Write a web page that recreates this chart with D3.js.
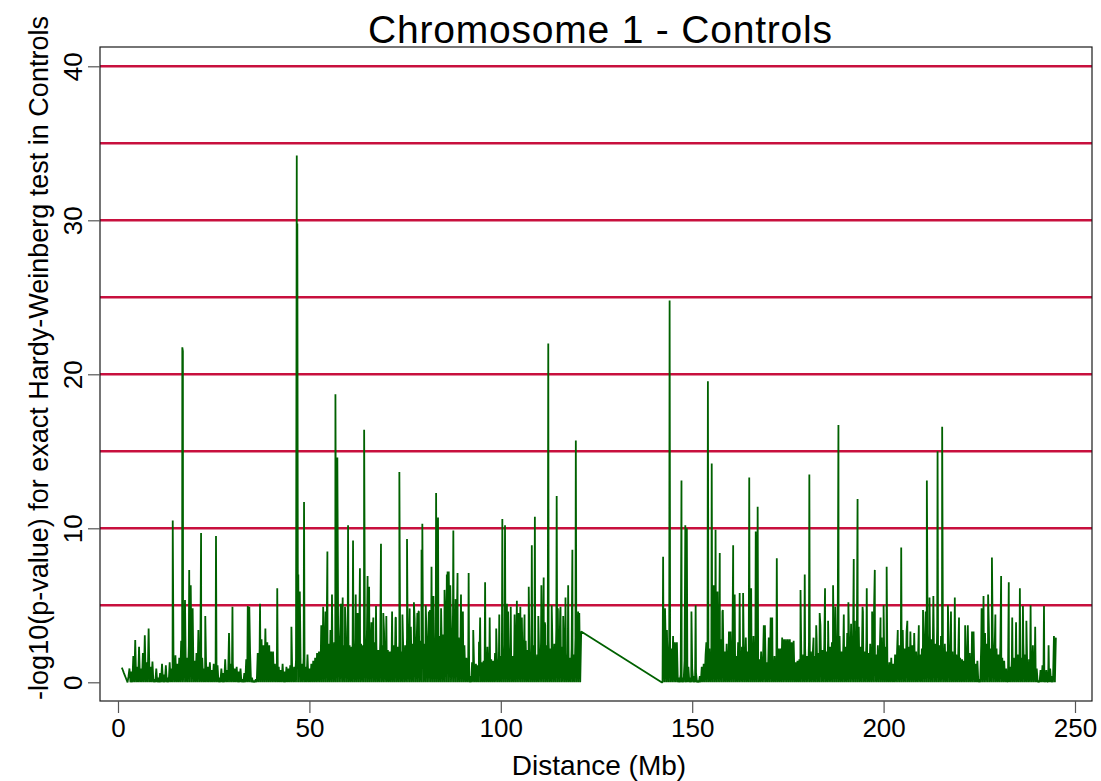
<!DOCTYPE html>
<html>
<head>
<meta charset="utf-8">
<script src="https://cdn.jsdelivr.net/npm/d3@7"></script>
<style>
  body { margin: 0; background: #fff; }
  svg { display: block; font-family: "Liberation Sans", Arial, Helvetica, sans-serif; }
</style>
</head>
<body>
<div id="chart"></div>
<script>
// -log10(p), one value every 0.25 Mb
const stepMb = 0.25;
const pArmStart = 1.0;
const pArmValues = [
  0.95,0.8,0.63,0.47,0.31,0.15,0,0.4,0.9,0,0.7,0,1.7,0,2.75,0,1.0,0,2.3,0,0.9,0,1.9,0,3.05,0,1.3,0,3.5,0,1.0,0,1.35,0,0.2,0,0.9,0,0.3,0,
  0.6,0,1.2,0,0.5,0,1.1,0,0.3,0,1.3,0,0.9,0,1.4,0,1.75,0,1.2,0,1.6,0,2.7,0,1.5,0,5.35,0,1.6,0,2.4,0,6.3,0,4.8,0,1.4,0,1.9,0,
  3.4,0,1.1,0,1.6,0,0.9,0,1.3,0,1.0,0,1.3,0,0.8,0,1.2,0,1.0,0,1.1,0,0.3,0,0.9,0,0.6,0,1.5,0,0.8,0,3.2,0,1.2,0,1.2,0,0.9,0,
  1.0,0,0.7,0,0.9,0,0.2,0,0.6,0,1.5,0,1.1,0,2.0,0,0.3,0,0.1,0,0.2,0,1.9,0,2.2,0,2.8,0,2.4,0,3.5,0,2.6,0,2.4,0,2.0,0,2.0,0,
  1.2,0,0.9,0,1.0,0,0.8,0,1.2,0,0.7,0,1.0,0,0.9,0,1.1,0,0.8,0,1.0,0,1.5,0,1.3,0,5.9,0,1.2,0,1.6,0,1.0,0,1.8,0,0.9,0,1.2,0,
  1.4,0,1.6,0,1.9,0,2.0,0,2.2,0,2.4,0,2.3,0,3.0,0,2.5,0,3.4,0,2.6,0,2.6,0,2.8,0,3.8,0,2.6,0,2.7,0,2.4,0,3.3,0,2.5,0,2.4,0,
  2.3,0,2.8,0,2.2,0,3.1,0,2.6,0,2.5,0,2.4,0,3.2,0,2.7,0,2.7,0,2.2,0,3.0,0,2.6,0,2.4,0,2.1,0,2.6,0,2.4,0,3.3,0,2.2,0,2.1,0,
  2.0,0,2.2,0,2.4,0,4.2,0,2.3,0,2.6,0,2.0,0,2.3,0,2.4,0,2.9,0,2.1,0,3.6,0,2.5,0,4.1,0,2.4,0,4.6,0,2.7,0,3.1,0,2.5,0,4.0,0,
  2.6,0,4.7,0,2.8,0,3.2,0,2.9,0,2.8,0,3.0,0,3.5,0,3.1,0,4.3,0,3.2,0,5.2,0,3.0,0,4.4,0,2.8,0,3.8,0,2.9,0,3.0,0,2.4,0,2.4,0,
  1.6,0,1.6,0,0.4,0,1.3,0,1.2,0,1.2,0,1.1,0,2.6,0,1.3,0,1.4,0,1.4,0,2.3,0,1.2,0,1.5,0,1.4,0,1.9,0,1.5,0,1.6,0,1.7,0,2.4,0,
  2.2,0,3.0,0,2.0,0,2.5,0,1.7,0,1.9,0,2.2,0,3.6,0,2.3,0,4.2,0,1.9,0,2.7,0,2.1,0,2.2,0,1.8,0,2.4,0,1.7,0,1.8,0,1.9,0,2.6,0,
  2.2,0,3.9,0,2.4,0,2.7,0,2.2,0,2.3,0,2.5,0,3.5,0,2.6,0,4.6,0,2.3,0,2.0,0,1.9,0,1.8,0,1.6,0,2.2,0,1.8,0,2.9,0,2.0,0,4.5,0,
  3.3
];
const qArmStart = 142.0;
const qArmValues = [
  0,0,2.5,0,3.5,0,2.0,0,2.8,0,2.2,0,3.0,0,1.8,0,2.6,0,0.3,0,0.5,0,0.3,0,1.4,0,0.4,0,1.0,0,0.3,0,0.9,0,0.4,0,0.6,0,0.1,0,
  0.4,0,1.0,0,1.2,0,1.8,0,2.0,0,2.2,0,1.8,0,3.0,0,2.2,0,3.5,0,1.9,0,2.8,0,4.7,0,2.0,0,2.5,0,1.6,0,3.3,0,2.0,0,2.4,0,1.7,0,
  2.6,0,1.8,0,2.3,0,1.6,0,2.9,0,2.0,0,2.5,0,2.2,0,3.0,0,1.9,0,2.2,0,1.5,0,2.0,0,1.4,0,3.7,0,1.3,0,2.9,0,4.2,0,1.2,0,1.7,0,
  1.6,0,2.2,0,2.2,0,2.9,0,2.8,0,2.8,0,2.8,0,2.8,0,2.6,0,2.7,0,1.3,0,1.4,0,1.5,0,1.8,0,1.8,0,2.2,0,1.7,0,2.6,0,2.0,0,1.9,0,
  1.7,0,2.9,0,1.9,0,3.7,0,2.1,0,2.4,0,2.0,0,2.8,0,2.3,0,2.6,0,2.2,0,3.4,0,2.4,0,3.0,0,2.0,0,2.7,0,2.3,0,3.2,0,2.5,0,3.8,0,
  2.2,0,4.0,0,2.5,0,3.6,0,2.3,0,4.9,0,2.0,0,2.6,0,1.9,0,2.5,0,2.1,0,4.7,0,1.8,0,2.4,0,2.0,0,2.9,0,1.7,0,2.3,0,0.8,0,1.3,0,
  1.6,0,1.2,0,1.8,0,1.9,0,2.4,0,2.0,0,3.4,0,2.2,0,3.3,0,2.3,0,3.3,0,2.4,0,3.2,0,2.0,0,1.6,0,1.8,0,2.2,0,2.5,0,4.6,0,3.0,0,
  3.2,0,2.8,0,5.6,0,2.5,0,3.6,0,2.4,0,3.0,0,2.2,0,2.5,0,2.0,0,2.9,0,1.9,0,2.0,0,1.6,0,1.8,0,1.8,0,1.6,0,1.5,0,1.4,0,1.4,0,
  3.7,0,1.9,0,1.5,0,3.3,0,1.2,0,1.4,0,0.2,0,2.4,0,2.3,0,3.2,0,2.5,0,3.6,0,2.2,0,3.0,0,2.1,0,2.2,0,1.8,0,2.4,0,1.6,0,1.4,0,
  0.9,0,0.4,0,1.0,0,1.5,0,1.6,0,1.6,0,1.8,0,1.9,0,1.6,0,2.5,0,1.8,0,1.2,0,1.5,0,1.6,0,2.4,0,1.6,0,0.9,0,0.1,0,0.8,0,1.1,0,
  0.3,0,0.8,0,0.1,0,0.9,0,0.4,0,3.0,0,2.9
];
// isolated markers above the dense band [Mb, -log10(p)]
const peaks = [
  [14.3,10.5],[16.8,21.75],[16.95,21.5],[18.6,7.3],[21.7,9.7],[22.8,4.3],[25.6,9.5],[29.9,4.9],
  [33.9,4.95],[34.3,4.9],[37.1,5.1],[41.6,6.1],[45.3,3.6],[46.7,34.2],[46.85,29.8],[47.1,7.0],
  [48.6,11.7],[53.1,3.7],[53.6,4.9],[54.2,4.6],[54.7,8.5],[55.9,5.7],[56.8,18.7],[57.3,14.6],
  [58.2,5.1],[58.7,5.5],[59.3,4.9],[60.1,10.2],[61.4,9.2],[62.1,5.7],[62.6,4.5],[63.2,7.4],
  [64.3,16.4],[65.2,6.9],[65.6,6.2],[66.2,3.9],[66.7,4.2],[67.4,4.95],[68.7,9.0],[69.3,4.5],
  [70.1,4.3],[71.6,4.6],[72.6,4.2],[73.5,13.65],[74.3,4.4],[75.5,9.3],[76.2,4.8],[77.3,5.2],
  [78.2,4.5],[78.6,4.6],[79.3,8.6],[79.5,10.3],[80.4,5.0],[81.2,4.6],[81.9,7.5],[82.4,5.6],
  [83.1,12.3],[83.6,10.7],[84.4,4.8],[85.3,6.0],[85.9,7.0],[86.1,7.2],[86.4,7.2],[86.8,6.3],
  [87.6,9.85],[88.2,5.4],[88.7,7.1],[89.6,5.7],[90.1,4.6],[91.6,7.1],[92.8,3.4],[94.3,2.6],
  [94.6,4.2],[95.9,6.5],[97.1,4.2],[98.8,3.5],[99.6,4.4],[100.4,10.6],[101.1,10.2],[101.6,5.1],
  [101.9,4.6],[102.6,4.9],[103.6,4.4],[104.2,5.3],[104.6,4.5],[105.1,4.9],[106.2,4.4],[107.3,6.2],
  [108.1,8.9],[108.9,10.75],[109.8,4.3],[110.6,6.3],[111.2,6.8],[111.6,3.7],[112.4,22.0],
  [113.3,5.0],[114.6,12.1],[114.9,4.8],[115.6,4.9],[116.3,4.3],[116.9,5.5],[117.6,6.3],
  [118.7,8.6],[119.6,15.7],[120.2,4.6],
  [142.4,8.15],[142.9,4.8],[143.4,3.4],[144.1,24.8],[145.5,2.6],[147.2,13.1],[148.2,10.2],
  [148.6,10.0],[149.8,4.6],[150.9,5.0],[153.7,2.6],[154.1,19.55],[155.1,14.2],[155.6,6.3],
  [156.1,9.9],[156.6,5.9],[157.2,8.4],[157.9,4.6],[159.6,3.3],[160.7,8.9],[161.1,5.7],
  [162.4,5.8],[163.3,5.8],[164.9,13.3],[165.4,6.1],[166.6,9.8],[167.1,11.4],[168.7,3.7],
  [170.9,4.2],[172.1,8.05],[178.3,6.0],[179.4,7.0],[180.6,13.5],[181.7,2.9],[182.4,3.7],
  [183.3,4.5],[184.7,6.1],[185.5,4.0],[186.8,6.3],[187.4,4.9],[188.2,16.7],[189.6,4.4],
  [190.8,5.2],[192.2,8.0],[193.2,11.9],[194.6,4.6],[195.6,6.1],[197.0,4.6],[197.7,7.3],
  [199.2,4.2],[200.0,5.0],[200.8,7.5],[203.7,3.4],[204.6,8.75],[206.2,4.0],[209.2,3.7],
  [210.3,4.7],[211.3,13.1],[212.0,5.5],[213.0,5.5],[214.1,15.0],[215.3,16.6],[216.8,5.0],
  [217.6,4.6],[218.6,5.5],[219.7,4.2],[221.3,3.7],[223.1,3.3],[225.6,4.8],[226.1,5.6],
  [227.3,5.7],[228.3,8.1],[229.2,4.4],[230.7,6.9],[232.7,6.5],[233.6,4.2],[234.6,3.9],
  [235.6,6.1],[236.4,4.95],[237.3,4.0],[238.4,5.0],[239.6,3.6],[241.9,4.95],[243.1,2.4]
];
const xTicks = [0, 50, 100, 150, 200, 250];
const yTicks = [0, 10, 20, 30, 40];
const refLines = [5, 10, 15, 20, 25, 30, 35, 40];
const titleText = "Chromosome 1 - Controls";
const xTitle = "Distance (Mb)";
const yTitle = "-log10(p-value) for exact Hardy-Weinberg test in Controls";

const W = 1101, H = 781;
const frame = {left: 100, right: 1092, top: 47, bottom: 701};
const LINE_GREEN = "#006100";
const REF_RED = "#c8103e";
const TICK_FONT = 26;

const svg = d3.select("#chart").append("svg")
  .attr("width", W)
  .attr("height", H);

svg.append("rect").attr("width", W).attr("height", H).attr("fill", "#fff");

const x = d3.scaleLinear().domain([0, 250]).range([118, 1075]);
const y = d3.scaleLinear().domain([0, 40]).range([682.3, 66.3]);

// join both arms and the peaks into one series ordered by position
const points = pArmValues.map((v, i) => [pArmStart + i * stepMb, v])
  .concat(qArmValues.map((v, i) => [qArmStart + i * stepMb, v]))
  .concat(peaks)
  .sort((a, b) => a[0] - b[0]);

// reference lines
svg.append("g")
  .attr("class", "ref-lines")
  .selectAll("line")
  .data(refLines)
  .join("line")
  .attr("x1", frame.left)
  .attr("x2", frame.right)
  .attr("y1", d => y(d))
  .attr("y2", d => y(d))
  .attr("stroke", REF_RED)
  .attr("stroke-width", 2.6);

const line = d3.line()
  .x(d => x(d[0]))
  .y(d => y(d[1]));

svg.append("path")
  .datum(points)
  .attr("fill", "none")
  .attr("stroke", LINE_GREEN)
  .attr("stroke-width", 1.8)
  .attr("stroke-linejoin", "bevel")
  .attr("d", line);

// plot frame
svg.append("rect")
  .attr("x", frame.left)
  .attr("y", frame.top)
  .attr("width", frame.right - frame.left)
  .attr("height", frame.bottom - frame.top)
  .attr("fill", "none")
  .attr("stroke", "#1a1a1a")
  .attr("stroke-width", 1.2);

// x axis
svg.append("g")
  .attr("class", "x-axis")
  .attr("transform", `translate(0,${frame.bottom})`)
  .call(d3.axisBottom(x).tickValues(xTicks).tickSize(12).tickPadding(6))
  .call(g => g.select(".domain").remove())
  .call(g => g.selectAll("line").attr("stroke", "#555").attr("stroke-width", 1.2))
  .call(g => g.selectAll("text")
    .attr("fill", "#000")
    .attr("font-size", TICK_FONT)
    .attr("font-family", null)
    .attr("dy", "0.71em"));

// y axis, labels turned on their side
svg.append("g")
  .attr("class", "y-axis")
  .attr("transform", `translate(${frame.left},0)`)
  .call(d3.axisLeft(y).tickValues(yTicks).tickSize(12))
  .call(g => g.select(".domain").remove())
  .call(g => g.selectAll("line").attr("stroke", "#555").attr("stroke-width", 1.2))
  .call(g => g.selectAll("text")
    .attr("fill", "#000")
    .attr("font-size", TICK_FONT)
    .attr("font-family", null)
    .attr("transform", "rotate(-90)")
    .attr("x", 0)
    .attr("y", -18)
    .attr("dy", 0)
    .attr("text-anchor", "middle"));

// titles
svg.append("text")
  .attr("x", 600)
  .attr("y", 43)
  .attr("text-anchor", "middle")
  .attr("font-size", 39)
  .attr("textLength", 464)
  .attr("lengthAdjust", "spacing")
  .text(titleText);

svg.append("text")
  .attr("x", 599)
  .attr("y", 775)
  .attr("text-anchor", "middle")
  .attr("font-size", 28)
  .text(xTitle);

svg.append("text")
  .attr("transform", `translate(48,${358}) rotate(-90)`)
  .attr("text-anchor", "middle")
  .attr("font-size", 27)
  .text(yTitle);
</script>
</body>
</html>
